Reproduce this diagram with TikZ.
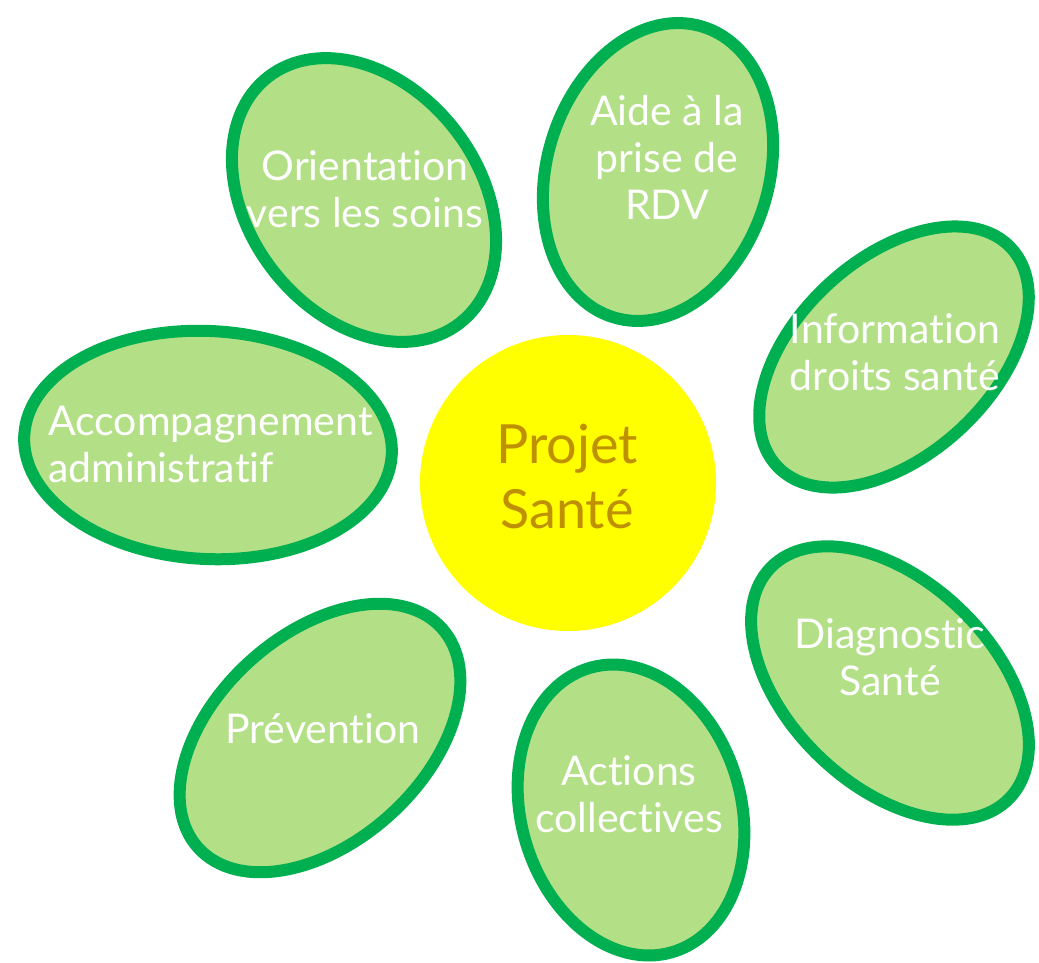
\documentclass[tikz,border=0pt]{standalone}
\usepackage{fontspec}
\setmainfont{Lato}[Ligatures=NoCommon]
\usepackage{xcolor}
\usepackage{tikz}
\definecolor{psjaune}{HTML}{FFFF00}
\definecolor{psor}{HTML}{BF9000}
\definecolor{psvert}{HTML}{00B050}
\definecolor{psvertpale}{HTML}{B3E086}
\begin{document}
\begin{tikzpicture}[x=1pt,y=-1pt,
  petale/.style={draw=psvert,line width=12pt,fill=psvertpale},
  etiquette/.style={white,font=\fontsize{41}{47}\selectfont,align=center,inner sep=0pt,anchor=base}]
  \useasboundingbox (0,0) rectangle (1039,962);
  % coeur
  \fill[psjaune] (568,483) circle [radius=148];
  \node[psor,font=\fontsize{54}{65}\selectfont,align=center,inner sep=0pt,anchor=base] (coeur) at (567,528) {Projet\\Santé};
  % petales : centre / demi-axes / angle
  \foreach \cx/\cy/\a/\b/\r in {364/200/156/115/-52, 658/172/152/111/73, 894/357/160/98/43,
      208/445/184/114/-3, 890/683/166/102/-44, 631/810/148/110/-74, 320/738/164/104/42}
    \draw[petale,rotate around={\r:(\cx,\cy)}] (\cx,\cy) ellipse [x radius=\a, y radius=\b];
  % textes des petales (base = derniere ligne)
  \foreach \n/\x/\y/\t in {orient/365/227/{Orientation\\vers les soins}, rdv/667/219/{Aide à la\\prise de\\RDV},
      info/895/390/{Information\\droits santé}, diag/890/695/{Diagnostic\\Santé},
      actions/629/832/{Actions\\collectives}, prev/323/743/{Prévention}}
    \node[etiquette] (\n) at (\x,\y) {\t};
  \node[etiquette,align=left,anchor=base west] (accomp) at (48,482) {Accompagnement\\administratif};
\end{tikzpicture}
\end{document}
